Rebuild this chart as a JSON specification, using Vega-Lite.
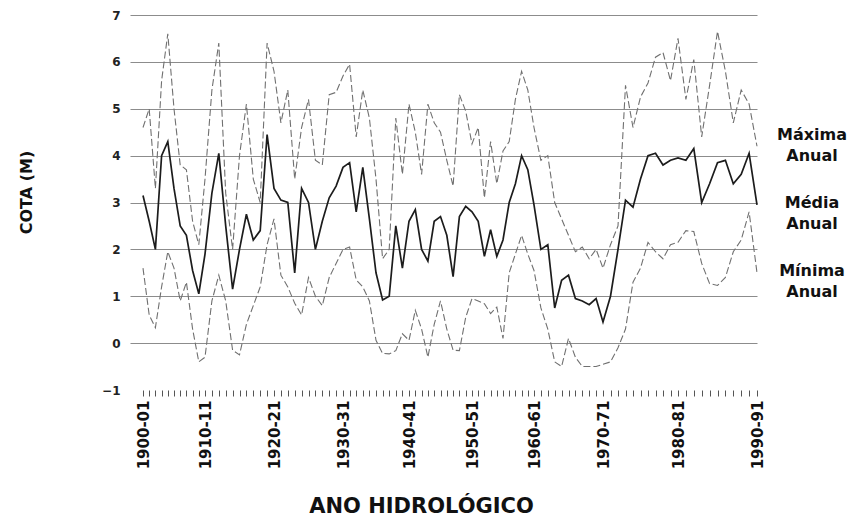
{
  "$schema": "https://vega.github.io/schema/vega-lite/v6.json",
  "width": 627,
  "height": 375,
  "autosize": "none",
  "padding": {"left": 130, "top": 15, "right": 96, "bottom": 139},
  "background": "white",
  "config": {"view": {"stroke": null}, "font": "DejaVu Sans"},
  "datasets": {
    "cotas": [
      {"ano": 1900, "maxima": 4.6, "media": 3.15, "minima": 1.6},
      {"ano": 1901, "maxima": 5.0, "media": 2.6, "minima": 0.6},
      {"ano": 1902, "maxima": 3.3, "media": 2.0, "minima": 0.33},
      {"ano": 1903, "maxima": 5.6, "media": 4.0, "minima": 1.2},
      {"ano": 1904, "maxima": 6.6, "media": 4.3, "minima": 1.95},
      {"ano": 1905, "maxima": 5.0, "media": 3.3, "minima": 1.6},
      {"ano": 1906, "maxima": 3.8, "media": 2.5, "minima": 0.9},
      {"ano": 1907, "maxima": 3.7, "media": 2.3, "minima": 1.3},
      {"ano": 1908, "maxima": 2.6, "media": 1.55, "minima": 0.3},
      {"ano": 1909, "maxima": 2.1, "media": 1.05, "minima": -0.4},
      {"ano": 1910, "maxima": 3.5, "media": 1.9, "minima": -0.3},
      {"ano": 1911, "maxima": 5.4, "media": 3.2, "minima": 0.9},
      {"ano": 1912, "maxima": 6.4, "media": 4.05, "minima": 1.45},
      {"ano": 1913, "maxima": 3.2, "media": 2.5, "minima": 0.9},
      {"ano": 1914, "maxima": 2.0, "media": 1.15, "minima": -0.15},
      {"ano": 1915, "maxima": 4.0, "media": 2.0, "minima": -0.25},
      {"ano": 1916, "maxima": 5.1, "media": 2.75, "minima": 0.4},
      {"ano": 1917, "maxima": 3.5, "media": 2.2, "minima": 0.8},
      {"ano": 1918, "maxima": 3.0, "media": 2.4, "minima": 1.2},
      {"ano": 1919, "maxima": 6.4, "media": 4.45, "minima": 2.1},
      {"ano": 1920, "maxima": 5.8, "media": 3.3, "minima": 2.65},
      {"ano": 1921, "maxima": 4.7, "media": 3.05, "minima": 1.45},
      {"ano": 1922, "maxima": 5.4, "media": 3.0, "minima": 1.2},
      {"ano": 1923, "maxima": 3.5, "media": 1.5, "minima": 0.85},
      {"ano": 1924, "maxima": 4.6, "media": 3.3, "minima": 0.6},
      {"ano": 1925, "maxima": 5.2, "media": 3.0, "minima": 1.4},
      {"ano": 1926, "maxima": 3.9, "media": 2.0, "minima": 1.0},
      {"ano": 1927, "maxima": 3.8, "media": 2.6, "minima": 0.8},
      {"ano": 1928, "maxima": 5.3, "media": 3.1, "minima": 1.4},
      {"ano": 1929, "maxima": 5.35, "media": 3.35, "minima": 1.7},
      {"ano": 1930, "maxima": 5.7, "media": 3.75, "minima": 2.0},
      {"ano": 1931, "maxima": 5.95, "media": 3.85, "minima": 2.05},
      {"ano": 1932, "maxima": 4.4, "media": 2.8, "minima": 1.35},
      {"ano": 1933, "maxima": 5.4, "media": 3.75, "minima": 1.2},
      {"ano": 1934, "maxima": 4.8, "media": 2.65, "minima": 0.9},
      {"ano": 1935, "maxima": 3.5, "media": 1.5, "minima": 0.06},
      {"ano": 1936, "maxima": 1.8, "media": 0.92, "minima": -0.22},
      {"ano": 1937, "maxima": 2.0, "media": 1.0, "minima": -0.23},
      {"ano": 1938, "maxima": 4.8, "media": 2.5, "minima": -0.16},
      {"ano": 1939, "maxima": 3.6, "media": 1.6, "minima": 0.2},
      {"ano": 1940, "maxima": 5.1, "media": 2.6, "minima": 0.06},
      {"ano": 1941, "maxima": 4.5, "media": 2.85, "minima": 0.7},
      {"ano": 1942, "maxima": 3.6, "media": 2.0, "minima": 0.3},
      {"ano": 1943, "maxima": 5.1, "media": 1.75, "minima": -0.3},
      {"ano": 1944, "maxima": 4.7, "media": 2.6, "minima": 0.4},
      {"ano": 1945, "maxima": 4.5, "media": 2.7, "minima": 0.9},
      {"ano": 1946, "maxima": 3.9, "media": 2.3, "minima": 0.3},
      {"ano": 1947, "maxima": 3.35, "media": 1.42, "minima": -0.15},
      {"ano": 1948, "maxima": 5.3, "media": 2.7, "minima": -0.16},
      {"ano": 1949, "maxima": 4.95, "media": 2.92, "minima": 0.55},
      {"ano": 1950, "maxima": 4.25, "media": 2.8, "minima": 0.95},
      {"ano": 1951, "maxima": 4.6, "media": 2.6, "minima": 0.9},
      {"ano": 1952, "maxima": 3.1, "media": 1.85, "minima": 0.84},
      {"ano": 1953, "maxima": 4.3, "media": 2.42, "minima": 0.63},
      {"ano": 1954, "maxima": 3.4, "media": 1.85, "minima": 0.77},
      {"ano": 1955, "maxima": 4.1, "media": 2.2, "minima": 0.1},
      {"ano": 1956, "maxima": 4.3, "media": 3.0, "minima": 1.5},
      {"ano": 1957, "maxima": 5.2, "media": 3.4, "minima": 1.9},
      {"ano": 1958, "maxima": 5.8, "media": 4.0, "minima": 2.3},
      {"ano": 1959, "maxima": 5.4, "media": 3.7, "minima": 1.9},
      {"ano": 1960, "maxima": 4.6, "media": 2.95, "minima": 1.55},
      {"ano": 1961, "maxima": 3.9, "media": 2.0, "minima": 0.75},
      {"ano": 1962, "maxima": 4.0, "media": 2.1, "minima": 0.3},
      {"ano": 1963, "maxima": 3.0, "media": 0.75, "minima": -0.4},
      {"ano": 1964, "maxima": 2.65, "media": 1.34, "minima": -0.5},
      {"ano": 1965, "maxima": 2.3, "media": 1.45, "minima": 0.1},
      {"ano": 1966, "maxima": 1.95, "media": 0.95, "minima": -0.3},
      {"ano": 1967, "maxima": 2.05, "media": 0.9, "minima": -0.5},
      {"ano": 1968, "maxima": 1.8, "media": 0.82, "minima": -0.5},
      {"ano": 1969, "maxima": 2.0, "media": 0.95, "minima": -0.5},
      {"ano": 1970, "maxima": 1.6, "media": 0.45, "minima": -0.45},
      {"ano": 1971, "maxima": 2.1, "media": 1.0, "minima": -0.4},
      {"ano": 1972, "maxima": 2.5, "media": 2.0, "minima": -0.1},
      {"ano": 1973, "maxima": 5.5, "media": 3.05, "minima": 0.3},
      {"ano": 1974, "maxima": 4.6, "media": 2.9, "minima": 1.3},
      {"ano": 1975, "maxima": 5.25, "media": 3.5, "minima": 1.6},
      {"ano": 1976, "maxima": 5.55, "media": 4.0, "minima": 2.15},
      {"ano": 1977, "maxima": 6.1, "media": 4.05, "minima": 1.95},
      {"ano": 1978, "maxima": 6.2, "media": 3.8, "minima": 1.8},
      {"ano": 1979, "maxima": 5.6, "media": 3.9, "minima": 2.1},
      {"ano": 1980, "maxima": 6.5, "media": 3.95, "minima": 2.15},
      {"ano": 1981, "maxima": 5.2, "media": 3.9, "minima": 2.4},
      {"ano": 1982, "maxima": 6.05, "media": 4.15, "minima": 2.38},
      {"ano": 1983, "maxima": 4.4, "media": 3.0, "minima": 1.7},
      {"ano": 1984, "maxima": 5.5, "media": 3.4, "minima": 1.27},
      {"ano": 1985, "maxima": 6.65, "media": 3.85, "minima": 1.23},
      {"ano": 1986, "maxima": 5.8, "media": 3.9, "minima": 1.4},
      {"ano": 1987, "maxima": 4.7, "media": 3.4, "minima": 1.95},
      {"ano": 1988, "maxima": 5.4, "media": 3.6, "minima": 2.2},
      {"ano": 1989, "maxima": 5.1, "media": 4.05, "minima": 2.8},
      {"ano": 1990, "maxima": 4.2, "media": 2.95, "minima": 1.5}
    ],
    "rotulos": [
      {"serie": "maxima", "rotulo": "Máxima Anual"},
      {"serie": "media", "rotulo": "Média Anual"},
      {"serie": "minima", "rotulo": "Mínima Anual"}
    ]
  },
  "data": {"name": "cotas"},
  "encoding": {
    "x": {
      "field": "ano",
      "type": "quantitative",
      "scale": {
        "domain": [1898, 1900, 1910, 1920, 1930, 1940, 1950, 1960, 1970, 1980, 1990],
        "range": [0, 13, 75, 144, 213, 279, 342, 404, 473, 548, 627],
        "nice": false,
        "zero": false
      },
      "axis": {
        "values": [1900,1901,1902,1903,1904,1905,1906,1907,1908,1909,1910,1911,1912,1913,1914,1915,1916,1917,1918,1919,1920,1921,1922,1923,1924,1925,1926,1927,1928,1929,1930,1931,1932,1933,1934,1935,1936,1937,1938,1939,1940,1941,1942,1943,1944,1945,1946,1947,1948,1949,1950,1951,1952,1953,1954,1955,1956,1957,1958,1959,1960,1961,1962,1963,1964,1965,1966,1967,1968,1969,1970,1971,1972,1973,1974,1975,1976,1977,1978,1979,1980,1981,1982,1983,1984,1985,1986,1987,1988,1989,1990],
        "labelExpr": "datum.value % 10 == 0 ? datum.value + '-' + (((datum.value + 1) % 100) < 10 ? '0' : '') + ((datum.value + 1) % 100) : ''",
        "labelAngle": -90,
        "labelFont": "DejaVu Sans",
        "labelFontWeight": "bold",
        "labelFontSize": 15,
        "labelColor": "#111111",
        "labelPadding": 4,
        "labelOverlap": false,
        "labelFlush": false,
        "labelBound": false,
        "ticks": true,
        "tickSize": 6,
        "tickColor": "#555555",
        "tickWidth": 1,
        "domain": false,
        "grid": false,
        "title": "ANO HIDROLÓGICO",
        "titleFont": "DejaVu Sans",
        "titleFontWeight": "bold",
        "titleFontSize": 21,
        "titleColor": "#111111",
        "titleX": 291,
        "titleY": 116,
        "titleAlign": "center",
        "titleBaseline": "middle"
      }
    },
    "y": {
      "field": "cota",
      "type": "quantitative",
      "scale": {"domain": [-1, 7], "nice": false, "zero": false},
      "axis": {
        "values": [-1, 0, 1, 2, 3, 4, 5, 6, 7],
        "grid": true,
        "gridColor": "#8c8c8c",
        "gridWidth": 1.2,
        "gridOpacity": {"condition": {"test": "datum.value === -1", "value": 0}, "value": 1},
        "domain": false,
        "ticks": false,
        "labelPadding": 10,
        "labelFont": "DejaVu Sans",
        "labelFontWeight": "bold",
        "labelFontSize": 12,
        "labelColor": "#222222",
        "title": "COTA (M)",
        "titleFont": "DejaVu Sans",
        "titleFontWeight": "bold",
        "titleFontSize": 16,
        "titleColor": "#111111",
        "titleX": -104,
        "titleY": 177,
        "titleAngle": -90,
        "titleAlign": "center",
        "titleBaseline": "middle"
      }
    }
  },
  "layer": [
    {
      "data": {"values": [{}]},
      "mark": {"type": "rule", "color": "#8c8c8c", "strokeWidth": 1.2},
      "encoding": {"x": {"datum": 1990}, "y": {"datum": 7}, "y2": {"datum": -1}}
    },
    {
      "transform": [
        {"fold": ["maxima", "minima"], "as": ["serie", "cota"]}
      ],
      "mark": {"type": "line", "color": "#707070", "strokeWidth": 1.1, "strokeDash": [7, 3]},
      "encoding": {"detail": {"field": "serie", "type": "nominal"}}
    },
    {
      "transform": [
        {"fold": ["media"], "as": ["serie", "cota"]}
      ],
      "mark": {"type": "line", "color": "#1c1c1c", "strokeWidth": 1.7},
      "encoding": {}
    },
    {
      "transform": [
        {"fold": ["maxima"], "as": ["serie", "cota"]},
        {"filter": "datum.ano === 1990"},
        {"lookup": "serie", "from": {"data": {"name": "rotulos"}, "key": "serie", "fields": ["rotulo"]}}
      ],
      "mark": {"type": "text", "dx": 55, "dy": -11, "align": "center", "baseline": "middle", "lineBreak": " ", "font": "DejaVu Sans", "fontWeight": "bold", "fontSize": 16, "lineHeight": 21, "color": "#111111"},
      "encoding": {"text": {"field": "rotulo", "type": "nominal"}}
    },
    {
      "transform": [
        {"fold": ["media", "minima"], "as": ["serie", "cota"]},
        {"filter": "datum.ano === 1990"},
        {"lookup": "serie", "from": {"data": {"name": "rotulos"}, "key": "serie", "fields": ["rotulo"]}}
      ],
      "mark": {"type": "text", "dx": 55, "dy": -2, "align": "center", "baseline": "middle", "lineBreak": " ", "font": "DejaVu Sans", "fontWeight": "bold", "fontSize": 16, "lineHeight": 21, "color": "#111111"},
      "encoding": {"text": {"field": "rotulo", "type": "nominal"}}
    }
  ]
}
